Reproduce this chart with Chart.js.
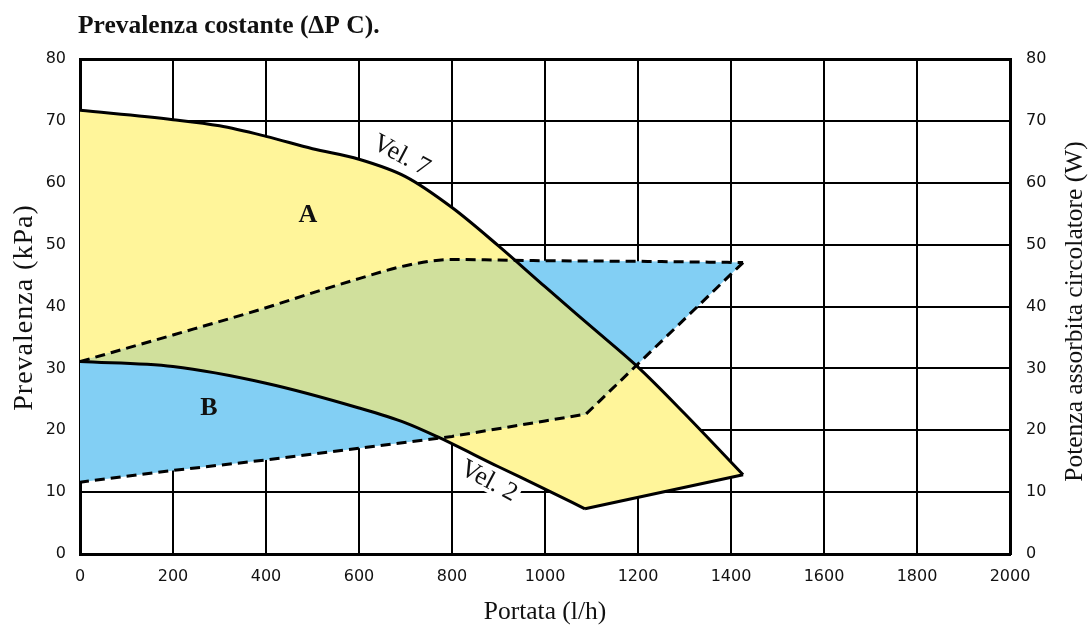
<!DOCTYPE html>
<html>
<head>
<meta charset="utf-8">
<script src="https://cdn.jsdelivr.net/npm/chart.js@4.4.1/dist/chart.umd.min.js"></script>
<style>
  html, body { margin: 0; padding: 0; background: #ffffff; }
  canvas { display: block; }
</style>
</head>
<body>
<canvas id="chart" width="1090" height="628"></canvas>
<script>
// ---------- texts ----------
const chartTitle = 'Prevalenza costante (\u0394P C).';
const xAxisTitle = 'Portata (l/h)';
const yAxisTitle = 'Prevalenza (kPa)';
const y2AxisTitle = 'Potenza assorbita circolatore (W)';

// ---------- axes ----------
const xMin = 0, xMax = 2000, xStep = 200;
const yMin = 0, yMax = 80, yStep = 10;

// ---------- series ----------
// Vel. 7 curve (upper boundary of area A)
const vel7X = [0, 200, 300, 400, 500, 600, 700, 800, 900, 1000, 1100, 1200, 1300, 1426];
const vel7Y = [71.7, 70.2, 69.2, 67.5, 65.5, 63.8, 61.0, 56.0, 49.8, 43.2, 36.7, 30.2, 22.7, 12.8];
// straight closing segment of area A (right end of Vel.7 to end of Vel.2)
const closeX = [1426, 1086];
const closeY = [12.8, 7.3];
// Vel. 2 curve (lower boundary of area A)
const vel2X = [0, 200, 400, 600, 700, 767, 900, 1000, 1086];
const vel2Y = [31.1, 30.3, 27.6, 23.6, 21.2, 19.0, 14.1, 10.5, 7.3];
// dashed upper boundary of area B (absorbed power)
const bUpperX = [0, 200, 400, 500, 600, 700, 800, 900, 1000, 1200, 1426];
const bUpperY = [31.1, 35.4, 39.8, 42.2, 44.5, 46.6, 47.6, 47.5, 47.4, 47.3, 47.1];
// dashed lower boundary of area B
const bLowerX = [0, 200, 400, 600, 800, 1000, 1088, 1426];
const bLowerY = [11.6, 13.5, 15.2, 17.1, 19.0, 21.5, 22.6, 47.1];

// ---------- annotations ----------
const vel7Label = { text: 'Vel. 7', x: 692, y: 64.5, angle: 28 };
const vel2Label = { text: 'Vel. 2', x: 880, y: 11.9, angle: 28 };
const areaLabels = [ { text: 'A', x: 490, y: 54.8 }, { text: 'B', x: 277, y: 23.6 } ];

// ---------- styles ----------
const yellow = '#FFF59A';
const blue = '#82CFF4';
const green = '#D0E09C';
const ink = '#111111';
const serif = '"Liberation Serif", "Times New Roman", serif';
const sans = '"DejaVu Sans", sans-serif';

const pts = (xs, ys) => xs.map((x, i) => ({ x: x, y: ys[i] }));

const solid = { borderColor: '#000', borderWidth: 3, pointRadius: 0, fill: false };
const dashed = { borderColor: '#000', borderWidth: 3, pointRadius: 0, fill: false, borderDash: [10, 6] };

const datasets = [
  Object.assign({ label: 'Vel. 7', data: pts(vel7X, vel7Y), cubicInterpolationMode: 'monotone' }, solid),
  Object.assign({ label: 'close', data: pts(closeX, closeY), tension: 0 }, solid),
  Object.assign({ label: 'Vel. 2', data: pts(vel2X, vel2Y).reverse(), cubicInterpolationMode: 'monotone' }, solid),
  Object.assign({ label: 'B upper', data: pts(bUpperX, bUpperY), cubicInterpolationMode: 'monotone' }, dashed),
  Object.assign({ label: 'B lower', data: pts(bLowerX, bLowerY).reverse(), tension: 0 }, dashed)
];

// fills the closed areas A and B (and their overlap) from the library's line paths
const regionsPlugin = {
  id: 'regions',
  beforeDatasetsDraw(chart) {
    const ctx = chart.ctx, area = chart.chartArea;
    const lines = chart.data.datasets.map((d, i) => chart.getDatasetMeta(i).dataset);
    lines.forEach(l => l.updateControlPoints(area, 'x'));
    const trace = (ids) => {
      ctx.beginPath();
      let first = true;
      ids.forEach(i => {
        const l = lines[i];
        l.segments.forEach(s => { l.pathSegment(ctx, s, { move: first }); first = false; });
      });
      ctx.closePath();
    };
    ctx.save();
    ctx.beginPath();
    ctx.rect(area.left, area.top, area.right - area.left, area.bottom - area.top);
    ctx.clip();
    trace([0, 1, 2]); ctx.fillStyle = yellow; ctx.fill();
    trace([3, 4]); ctx.fillStyle = blue; ctx.fill();
    trace([0, 1, 2]); ctx.clip();
    trace([3, 4]); ctx.fillStyle = green; ctx.fill();
    ctx.restore();
  }
};

// texts: chart title, axis titles, curve and area labels
const textPlugin = {
  id: 'texts',
  afterDraw(chart) {
    const ctx = chart.ctx, xs = chart.scales.x, ys = chart.scales.y, area = chart.chartArea;
    const midY = (area.top + area.bottom) / 2;
    ctx.save();
    ctx.fillStyle = ink;
    // title
    ctx.font = 'bold 25.5px ' + serif;
    ctx.textAlign = 'left';
    ctx.textBaseline = 'alphabetic';
    ctx.fillText(chartTitle, 78, 33);
    // left axis title (reads bottom to top)
    ctx.save();
    ctx.translate(25, midY + 1);
    ctx.rotate(-Math.PI / 2);
    ctx.font = '28px ' + serif;
    if ('letterSpacing' in ctx) ctx.letterSpacing = '1px';
    ctx.textAlign = 'center';
    ctx.textBaseline = 'middle';
    ctx.fillText(yAxisTitle, 0, 0);
    ctx.restore();
    // right axis title (reads bottom to top)
    ctx.save();
    ctx.translate(1075, midY + 5);
    ctx.rotate(-Math.PI / 2);
    ctx.font = '25.5px ' + serif;
    ctx.textAlign = 'center';
    ctx.textBaseline = 'middle';
    ctx.fillText(y2AxisTitle, 0, 0);
    ctx.restore();
    // curve labels with white backing
    [vel7Label, vel2Label].forEach(lb => {
      ctx.save();
      ctx.translate(xs.getPixelForValue(lb.x), ys.getPixelForValue(lb.y));
      ctx.rotate(lb.angle * Math.PI / 180);
      ctx.font = '26px ' + serif;
      ctx.textAlign = 'center';
      ctx.textBaseline = 'middle';
      const w = ctx.measureText(lb.text).width;
      ctx.fillStyle = '#fff';
      ctx.fillRect(-w / 2 - 3, -12, w + 6, 24);
      ctx.fillStyle = ink;
      ctx.fillText(lb.text, 0, 1);
      ctx.restore();
    });
    // area labels
    ctx.font = 'bold 26px ' + serif;
    ctx.textAlign = 'center';
    ctx.textBaseline = 'middle';
    areaLabels.forEach(lb => ctx.fillText(lb.text, xs.getPixelForValue(lb.x), ys.getPixelForValue(lb.y)));
    ctx.restore();
  }
};

const tickFont = { family: sans, size: 16 };
const plainTick = (v) => String(v);

new Chart(document.getElementById('chart'), {
  type: 'line',
  data: { datasets: datasets },
  options: {
    responsive: false,
    animation: false,
    devicePixelRatio: 1,
    layout: { padding: { top: 59, left: 0, right: 0, bottom: 0 } },
    plugins: { legend: { display: false }, tooltip: { enabled: false }, title: { display: false } },
    scales: {
      x: {
        type: 'linear', min: xMin, max: xMax, z: 1,
        ticks: { stepSize: xStep, padding: 13, font: tickFont, color: ink, callback: plainTick },
        grid: { color: '#000', lineWidth: 2, drawTicks: false },
        border: { display: true, width: 3, color: '#000' },
        title: { display: true, text: xAxisTitle, font: { family: serif, size: 25.5 }, color: ink, padding: { top: 0, bottom: 0 } },
        afterFit(s) { s.height = 74; }
      },
      y: {
        position: 'left', min: yMin, max: yMax, z: 1,
        ticks: { stepSize: yStep, padding: 14, font: tickFont, color: ink, callback: plainTick },
        grid: { color: '#000', lineWidth: (c) => (c.tick && c.tick.value === yMax ? 3 : 2), drawTicks: false },
        border: { display: true, width: 3, color: '#000' },
        title: { display: false, text: yAxisTitle },
        afterFit(s) { s.width = 80; }
      },
      y2: {
        position: 'right', min: yMin, max: yMax, z: 1,
        ticks: { stepSize: yStep, padding: 16, font: tickFont, color: ink, callback: plainTick },
        grid: { drawOnChartArea: false, drawTicks: false },
        border: { display: true, width: 3, color: '#000' },
        afterFit(s) { s.width = 80; }
      }
    }
  },
  plugins: [regionsPlugin, textPlugin]
});
</script>
</body>
</html>
